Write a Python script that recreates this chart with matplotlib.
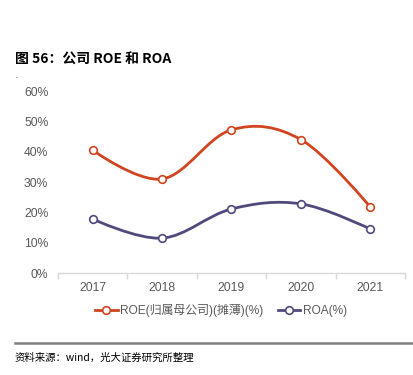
import numpy as np
import matplotlib.pyplot as plt
from matplotlib.path import Path
from matplotlib.patches import PathPatch
from matplotlib.lines import Line2D

plt.rcParams['font.family'] = ['Liberation Sans', 'Noto Sans CJK SC', 'DejaVu Sans']

years = ['2017', '2018', '2019', '2020', '2021']
roe = [40.5, 31.0, 47.2, 44.0, 21.8]
roa = [17.8, 11.5, 21.1, 22.8, 14.5]
yticks = [0, 10, 20, 30, 40, 50, 60]

c_roe = '#D0451F'
c_roa = '#504A7C'


def smooth_path(xs, ys, s=0.35):
    # cubic bezier through the points, like a cardinal spline
    pts = np.column_stack([xs, ys]).astype(float)
    n = len(pts)
    verts = [pts[0]]
    codes = [Path.MOVETO]
    for i in range(n - 1):
        p0 = pts[max(i - 1, 0)]
        p1 = pts[i]
        p2 = pts[i + 1]
        p3 = pts[min(i + 2, n - 1)]
        c1 = p1 + (p2 - p0) * s / 2 if i > 0 else p1
        c2 = p2 - (p3 - p1) * s / 2 if i + 1 < n - 1 else p2
        verts += [c1, c2, p2]
        codes += [Path.CURVE4] * 3
    return Path(verts, codes)


fig = plt.figure(figsize=(4.13, 3.75), dpi=100)
ax = fig.add_axes([0.1404, 0.272, 0.84, 0.4853])

x = np.arange(len(years))
for vals, col in [(roe, c_roe), (roa, c_roa)]:
    ax.add_patch(PathPatch(smooth_path(x, vals), fill=False, edgecolor=col, lw=2, zorder=2))
    ax.plot(x, vals, 'o', ms=5.5, mfc='white', mec=col, mew=1.2, zorder=3)

ax.set_xlim(-0.5, 4.5)
ax.set_ylim(0, 60)
ax.set_yticks(yticks)
ax.set_yticklabels([f'{v}%' for v in yticks])
ax.set_xticks(x)
ax.set_xticklabels(years)
ax.set_xticks(np.arange(-0.5, 5, 1), minor=True)
ax.tick_params(axis='x', which='major', length=0, pad=6.5, labelsize=8.7, labelcolor='#595959')
ax.tick_params(axis='x', which='minor', length=4, color='#D9D9D9', width=1)
ax.tick_params(axis='y', length=0, pad=7, labelsize=8.7, labelcolor='#595959')
for sp in ['top', 'right', 'left']:
    ax.spines[sp].set_visible(False)
ax.spines['bottom'].set_color('#D9D9D9')
ax.spines['bottom'].set_linewidth(1)

handles = [
    Line2D([], [], color=c_roe, lw=2, marker='o', ms=5.5, mfc='white', mec=c_roe, mew=1.2),
    Line2D([], [], color=c_roa, lw=2, marker='o', ms=5.5, mfc='white', mec=c_roa, mew=1.2),
]
fig.legend(handles, ['ROE(归属母公司)(摊薄)(%)', 'ROA(%)'], loc='center', bbox_to_anchor=(0.535, 0.171),
           ncol=2, frameon=False, fontsize=8.6, handlelength=1.9, handletextpad=0.2,
           columnspacing=1.2, labelcolor='#595959')

fig.text(0.036, 0.84, '图 56：公司 ROE 和 ROA', fontsize=10, fontweight='bold',
         family=['Noto Sans CJK SC', 'DejaVu Sans'], va='center')
fig.text(0.036, 0.795, '.', fontsize=5, va='center')
fig.add_artist(Line2D([0.036, 1.0], [0.085, 0.085], color='#808080', lw=1.8))
fig.text(0.036, 0.045, '资料来源：wind，光大证券研究所整理', fontsize=7.5,
         family=['Noto Sans CJK SC', 'DejaVu Sans'], va='center')

fig.savefig('out.png', dpi=100)
